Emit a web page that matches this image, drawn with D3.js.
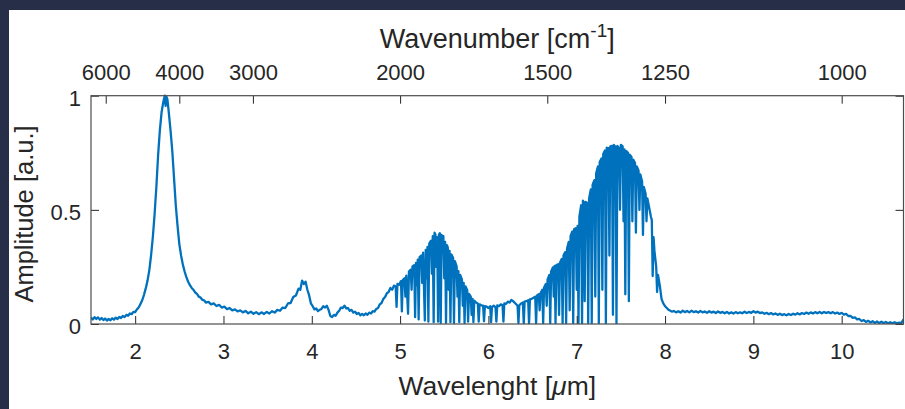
<!DOCTYPE html>
<html>
<head>
<meta charset="utf-8">
<script src="https://cdn.jsdelivr.net/npm/d3@7"></script>
<style>
  html, body { margin: 0; padding: 0; background: #262e48; }
  svg { display: block; }
  text { font-family: "Liberation Sans", Arial, Helvetica, sans-serif; fill: #262626; }
</style>
</head>
<body>
<svg id="chart" width="905" height="409"></svg>
<script>
// tick values
const wavelengthTicks = [2, 3, 4, 5, 6, 7, 8, 9, 10];
const wavenumberTicks = [6000, 4000, 3000, 2000, 1500, 1250, 1000];
const amplitudeTicks = [0, 0.5, 1];

// spectrum, [wavelength um, amplitude]
const peakRegion = [
  [1.50,0.028],[1.52,0.020],[1.54,0.030],[1.56,0.022],[1.58,0.029],[1.60,0.019],[1.62,0.026],[1.64,0.017],
  [1.66,0.024],[1.68,0.015],[1.70,0.022],[1.72,0.016],[1.74,0.025],[1.76,0.019],[1.78,0.028],[1.80,0.022],
  [1.82,0.031],[1.84,0.026],[1.86,0.035],[1.88,0.030],[1.90,0.040],[1.92,0.036],[1.94,0.046],[1.96,0.043],
  [1.98,0.053],[2.00,0.052],[2.02,0.064],[2.04,0.072],[2.06,0.088],[2.08,0.104],[2.10,0.128],[2.12,0.156],
  [2.14,0.190],[2.16,0.235],[2.18,0.300],[2.20,0.380],[2.22,0.480],[2.24,0.600],[2.26,0.740],[2.28,0.850],
  [2.30,0.930],[2.32,0.975],[2.335,1.000],[2.345,0.955],[2.355,0.995],[2.365,0.985],[2.38,0.930],[2.40,0.850],
  [2.42,0.760],[2.44,0.640],[2.46,0.520],[2.48,0.430],[2.50,0.350],[2.52,0.300],[2.54,0.260],[2.56,0.230],
  [2.58,0.205],[2.60,0.185],[2.62,0.170],[2.64,0.158],[2.66,0.150],[2.68,0.138],[2.70,0.132],[2.72,0.120],
  [2.74,0.116],[2.76,0.106],[2.78,0.104],[2.80,0.094],[2.83,0.097],[2.86,0.086],[2.89,0.090],[2.92,0.079],
  [2.95,0.084],[2.98,0.072],[3.01,0.076],[3.04,0.065],[3.07,0.070],[3.10,0.060],[3.13,0.064],[3.16,0.055],
  [3.19,0.060],[3.22,0.051],[3.25,0.057],[3.28,0.047],[3.31,0.054],[3.34,0.045],[3.37,0.052],[3.40,0.043],
  [3.43,0.051],[3.46,0.044],[3.49,0.053],[3.52,0.046],[3.55,0.056],[3.58,0.050],[3.61,0.062],[3.64,0.058],
  [3.67,0.072],[3.70,0.070],[3.73,0.090],[3.76,0.092],[3.79,0.118],[3.82,0.125],[3.85,0.155],[3.87,0.150],
  [3.89,0.190],[3.91,0.175],[3.93,0.185],[3.95,0.150],[3.97,0.125],[3.99,0.090],[4.01,0.078],[4.03,0.064],
  [4.05,0.068],[4.07,0.057],[4.09,0.062],[4.11,0.066],[4.13,0.078],[4.15,0.072],[4.17,0.080],[4.19,0.062],
  [4.21,0.035],[4.23,0.030],[4.25,0.040],[4.27,0.036],[4.29,0.050],[4.31,0.058],[4.33,0.072],[4.35,0.070],
  [4.37,0.080],[4.39,0.068],[4.41,0.070],[4.43,0.058],[4.45,0.062],[4.47,0.050],[4.49,0.054],[4.51,0.044],
  [4.53,0.048],[4.55,0.038],[4.57,0.044],[4.59,0.038],[4.61,0.046],[4.63,0.040],[4.65,0.050],[4.67,0.046],
  [4.69,0.056],[4.71,0.054],[4.73,0.066],[4.75,0.070],[4.77,0.086],[4.79,0.092]
];

const band5 = [
  [4.81,0.110],[4.83,0.118],[4.85,0.135],[4.87,0.140],[4.89,0.158],[4.91,0.150],[4.93,0.168],[4.95,0.165],
  [4.96,0.075],[4.97,0.176],[4.99,0.172],[5.01,0.188],[5.02,0.055],[5.03,0.192],[5.05,0.200],[5.06,0.120],
  [5.07,0.212],[5.09,0.045],[5.10,0.230],[5.12,0.238],[5.13,0.150],[5.14,0.252],[5.16,0.258],[5.17,0.030],
  [5.18,0.268],[5.19,0.170],[5.20,0.282],[5.21,0.020],[5.22,0.292],[5.24,0.300],[5.25,0.180],[5.26,0.312],
  [5.28,0.015],[5.29,0.325],[5.30,0.200],[5.31,0.338],[5.32,0.010],[5.33,0.352],[5.35,0.365],[5.36,0.220],
  [5.37,0.385],[5.38,0.008],[5.39,0.400],[5.40,0.392],[5.41,0.250],[5.42,0.380],[5.43,0.010],[5.44,0.392],
  [5.45,0.398],[5.46,0.005],[5.47,0.390],[5.48,0.370],[5.49,0.385],[5.50,0.200],[5.51,0.360],[5.52,0.005],
  [5.53,0.345],[5.54,0.335],[5.55,0.150],[5.56,0.320],[5.57,0.008],[5.58,0.305],[5.60,0.290],[5.61,0.005],
  [5.62,0.275],[5.64,0.252],[5.65,0.120],[5.66,0.232],[5.67,0.008],[5.68,0.215],[5.70,0.195],[5.71,0.080],
  [5.72,0.180],[5.73,0.005],[5.74,0.165],[5.76,0.148],[5.77,0.010],[5.78,0.132],[5.80,0.120],[5.81,0.040],
  [5.82,0.110],[5.83,0.008],[5.84,0.102],[5.86,0.094],[5.88,0.090],[5.89,0.010],[5.90,0.086],[5.92,0.082],
  [5.94,0.080],[5.95,0.012],[5.96,0.078],[5.98,0.076],[6.00,0.070],[6.02,0.078],[6.03,0.008],[6.04,0.074],
  [6.06,0.080],[6.08,0.074],[6.09,0.010],[6.10,0.082],[6.12,0.078],[6.14,0.086],[6.16,0.082],[6.17,0.010],
  [6.18,0.090],[6.20,0.088],[6.22,0.098],[6.24,0.094],[6.26,0.105],[6.28,0.100],[6.30,0.092],[6.32,0.084],
  [6.33,0.080],[6.34,0.005],[6.35,0.082],[6.37,0.090],[6.39,0.094],[6.40,0.004],[6.41,0.098],[6.43,0.100],
  [6.45,0.104],[6.46,0.004],[6.47,0.108],[6.49,0.110]
];

const band7 = [
  [6.51,0.115],[6.53,0.120],[6.54,0.004],[6.55,0.125],[6.57,0.130],[6.58,0.060],[6.59,0.135],[6.61,0.150],
  [6.62,0.004],[6.63,0.160],[6.65,0.175],[6.66,0.080],[6.67,0.195],[6.69,0.215],[6.70,0.004],[6.71,0.230],
  [6.73,0.248],[6.74,0.120],[6.75,0.255],[6.76,0.004],[6.77,0.258],[6.79,0.262],[6.80,0.040],[6.81,0.268],
  [6.83,0.285],[6.84,0.004],[6.85,0.300],[6.87,0.315],[6.88,0.004],[6.89,0.330],[6.91,0.360],[6.92,0.060],
  [6.93,0.385],[6.95,0.405],[6.96,0.004],[6.97,0.415],[6.99,0.420],[7.00,0.150],[7.01,0.430],[7.02,0.004],
  [7.03,0.470],[7.05,0.520],[7.06,0.004],[7.07,0.540],[7.08,0.530],[7.09,0.100],[7.10,0.535],[7.12,0.530],
  [7.13,0.004],[7.14,0.550],[7.16,0.590],[7.17,0.004],[7.18,0.610],[7.20,0.630],[7.21,0.120],[7.22,0.660],
  [7.24,0.690],[7.25,0.004],[7.26,0.710],[7.28,0.725],[7.29,0.150],[7.30,0.745],[7.32,0.760],[7.33,0.004],
  [7.34,0.772],[7.36,0.770],[7.37,0.300],[7.38,0.778],[7.40,0.780],[7.41,0.040],[7.42,0.784],[7.44,0.775],
  [7.45,0.002],[7.46,0.780],[7.48,0.770],[7.49,0.500],[7.50,0.785],[7.52,0.778],[7.53,0.450],[7.54,0.765],
  [7.55,0.130],[7.56,0.758],[7.58,0.750],[7.59,0.100],[7.60,0.742],[7.62,0.732],[7.63,0.450],[7.64,0.720],
  [7.66,0.705],[7.67,0.400],[7.68,0.690],[7.70,0.672],[7.71,0.500],[7.72,0.655],[7.74,0.625],[7.75,0.390],
  [7.76,0.600],[7.78,0.570],[7.79,0.450],[7.80,0.550],[7.82,0.510],[7.84,0.470],[7.85,0.455],[7.86,0.210],
  [7.87,0.380],[7.88,0.320],[7.90,0.250],[7.91,0.140],[7.92,0.215],[7.94,0.170],[7.96,0.110],[7.98,0.090],
  [8.00,0.078],[8.02,0.070],[8.04,0.062],[8.06,0.058],[8.08,0.054]
];

const tail = [
  [8.10,0.057],[8.125,0.051],[8.15,0.056],[8.175,0.050],[8.20,0.058],[8.225,0.052],[8.25,0.057],[8.275,0.051],
  [8.30,0.058],[8.325,0.052],[8.35,0.056],[8.375,0.050],[8.40,0.057],[8.425,0.051],[8.45,0.055],[8.475,0.049],
  [8.50,0.056],[8.525,0.050],[8.55,0.054],[8.575,0.048],[8.60,0.055],[8.625,0.049],[8.65,0.053],[8.675,0.047],
  [8.70,0.053],[8.725,0.046],[8.75,0.051],[8.775,0.046],[8.80,0.052],[8.825,0.047],[8.85,0.051],[8.875,0.047],
  [8.90,0.054],[8.925,0.048],[8.95,0.053],[8.975,0.049],[9.00,0.056],[9.025,0.050],[9.05,0.054],[9.075,0.048],
  [9.10,0.051],[9.125,0.045],[9.15,0.049],[9.175,0.043],[9.20,0.048],[9.225,0.042],[9.25,0.046],[9.275,0.040],
  [9.30,0.045],[9.325,0.039],[9.35,0.043],[9.375,0.038],[9.40,0.044],[9.425,0.039],[9.45,0.045],[9.475,0.041],
  [9.50,0.047],[9.525,0.042],[9.55,0.048],[9.575,0.044],[9.60,0.050],[9.625,0.045],[9.65,0.051],[9.675,0.046],
  [9.70,0.052],[9.725,0.047],[9.75,0.053],[9.775,0.047],[9.80,0.053],[9.825,0.048],[9.85,0.052],[9.875,0.047],
  [9.90,0.052],[9.925,0.046],[9.95,0.050],[9.975,0.044],[10.00,0.049],[10.025,0.041],[10.05,0.044],[10.075,0.035],
  [10.10,0.036],[10.125,0.027],[10.15,0.029],[10.175,0.020],[10.20,0.022],[10.225,0.013],[10.25,0.017],[10.275,0.009],
  [10.30,0.014],[10.325,0.007],[10.35,0.012],[10.375,0.005],[10.40,0.011],[10.425,0.004],[10.45,0.010],[10.475,0.004],
  [10.50,0.009],[10.525,0.003],[10.55,0.008],[10.575,0.003],[10.60,0.008],[10.625,0.003],[10.65,0.006],[10.675,0.004],
  [10.69,0.014],[10.70,0.020]
];

const spectrum = peakRegion.concat(band5, band7, tail);

const W = 905, H = 409;
const plot = { left: 91, right: 903.5, top: 95.7, bottom: 324 };
const tickLen = 8;
const axisColor = '#262626';
const lineColor = '#0072bd';

const svg = d3.select('#chart');

// white panel on the dark page
svg.append('rect')
  .attr('x', 9).attr('y', 10)
  .attr('width', W - 9).attr('height', H - 10)
  .attr('fill', 'white');

const x = d3.scaleLinear().domain([1.5, 10.7]).range([plot.left, plot.right]);
const y = d3.scaleLinear().domain([0, 1]).range([plot.bottom, plot.top]);

svg.append('clipPath').attr('id', 'clip')
  .append('rect')
  .attr('x', plot.left).attr('y', plot.top - 2)
  .attr('width', plot.right - plot.left).attr('height', plot.bottom - plot.top + 2);

const line = d3.line()
  .x(function (d) { return x(d[0]); })
  .y(function (d) { return y(d[1]); });

svg.append('path')
  .datum(spectrum)
  .attr('clip-path', 'url(#clip)')
  .attr('d', line)
  .attr('fill', 'none')
  .attr('stroke', lineColor)
  .attr('stroke-width', 2.3)
  .attr('stroke-linejoin', 'round');

function style_axis(g) {
  g.select('.domain').remove();
  g.selectAll('.tick line').attr('stroke', axisColor).attr('stroke-width', 1);
  g.selectAll('.tick text').attr('fill', axisColor).style('font-size', '22px');
}

// bottom axis: wavelength
svg.append('g')
  .attr('transform', 'translate(0,' + plot.bottom + ')')
  .call(d3.axisBottom(x).tickValues(wavelengthTicks).tickSizeInner(-tickLen).tickSizeOuter(0).tickPadding(19.5))
  .call(style_axis);

// top axis: wavenumber = 1e4 / wavelength
svg.append('g')
  .attr('transform', 'translate(0,' + plot.top + ')')
  .call(d3.axisTop(x)
    .tickValues(wavenumberTicks.map(function (v) { return 1e4 / v; }))
    .tickFormat(function (d, i) { return wavenumberTicks[i]; })
    .tickSizeInner(-tickLen).tickSizeOuter(0).tickPadding(15.5))
  .call(style_axis);

// left axis
svg.append('g')
  .attr('transform', 'translate(' + plot.left + ',0)')
  .call(d3.axisLeft(y).tickValues(amplitudeTicks).tickFormat(d3.format('~g'))
    .tickSizeInner(-tickLen).tickSizeOuter(0).tickPadding(10))
  .call(style_axis)
  .selectAll('.tick text').attr('dy', '0.43em');

// right axis, ticks only
svg.append('g')
  .attr('transform', 'translate(' + plot.right + ',0)')
  .call(d3.axisRight(y).tickValues(amplitudeTicks).tickFormat('')
    .tickSizeInner(-tickLen).tickSizeOuter(0))
  .call(style_axis);

// box
svg.append('rect')
  .attr('x', plot.left).attr('y', plot.top)
  .attr('width', plot.right - plot.left).attr('height', plot.bottom - plot.top)
  .attr('fill', 'none')
  .attr('stroke', '#4d4d4d')
  .attr('stroke-width', 1.2);

// axis titles
const cx = (plot.left + plot.right) / 2;

const topTitle = svg.append('text')
  .attr('x', cx).attr('y', 48)
  .attr('text-anchor', 'middle')
  .style('font-size', '27px');
topTitle.append('tspan').text('Wavenumber [cm');
topTitle.append('tspan').attr('dy', -11).style('font-size', '19px').text('-1');
topTitle.append('tspan').attr('dy', 11).text(']');

const bottomTitle = svg.append('text')
  .attr('x', cx).attr('y', 395)
  .attr('text-anchor', 'middle')
  .style('font-size', '26.5px');
bottomTitle.append('tspan').text('Wavelenght [');
bottomTitle.append('tspan').style('font-style', 'italic').text('\u03bc');
bottomTitle.append('tspan').text('m]');

svg.append('text')
  .attr('transform', 'translate(33,' + 214 + ') rotate(-90)')
  .attr('text-anchor', 'middle')
  .style('font-size', '25.5px')
  .text('Amplitude [a.u.]');
</script>
</body>
</html>
